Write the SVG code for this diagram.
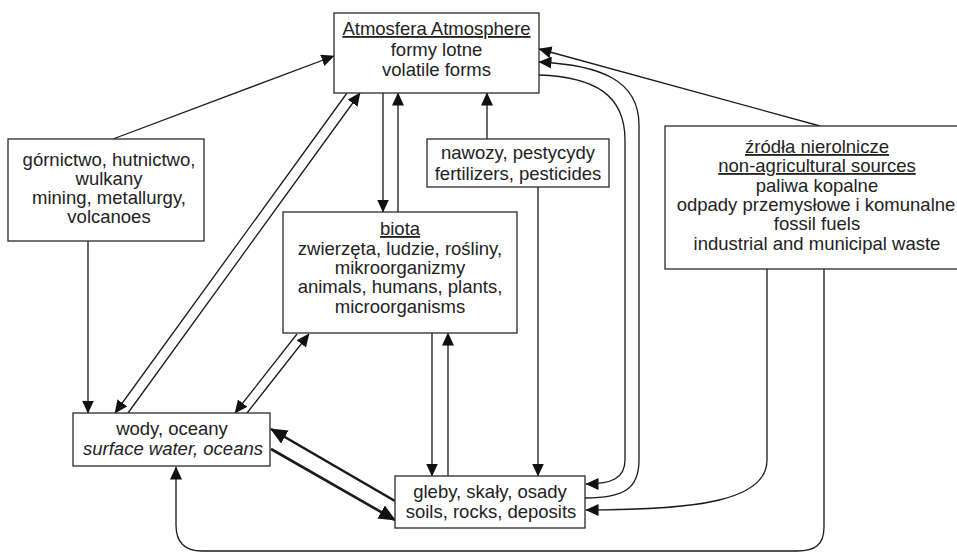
<svg xmlns="http://www.w3.org/2000/svg" width="957" height="556" viewBox="0 0 957 556">
<style>
.box{fill:#fff;stroke:#2a2a2a;stroke-width:1.3}
text{font-family:"Liberation Sans",Arial,sans-serif;font-size:18.5px;fill:#222;text-anchor:middle}
.u{text-decoration:underline}
.it{font-style:italic}
.c{fill:none;stroke:#1a1a1a;stroke-width:1.3}
.t{fill:none;stroke:#1a1a1a;stroke-width:2.6}
</style>
<defs>
<marker id="a" markerUnits="userSpaceOnUse" markerWidth="13" markerHeight="12" refX="12.5" refY="6" orient="auto">
<path d="M0,0 L13,6 L0,12 z" fill="#111"/>
</marker>
<marker id="b" markerUnits="userSpaceOnUse" markerWidth="17" markerHeight="15" refX="16" refY="7.5" orient="auto">
<path d="M0,0 L17,7.5 L0,15 z" fill="#111"/>
</marker>
</defs>
<rect width="957" height="556" fill="#fff"/>
<g id="connectors">
<line class="c" x1="113" y1="139" x2="334" y2="56" marker-end="url(#a)"/>
<line class="c" x1="88" y1="241" x2="88" y2="413" marker-end="url(#a)"/>
<line class="c" x1="347" y1="93" x2="115" y2="413" marker-end="url(#a)"/>
<line class="c" x1="128" y1="413" x2="360" y2="93" marker-end="url(#a)"/>
<line class="c" x1="383" y1="93" x2="383" y2="212" marker-end="url(#a)"/>
<line class="c" x1="398" y1="212" x2="398" y2="93" marker-end="url(#a)"/>
<line class="c" x1="487" y1="139" x2="487" y2="93" marker-end="url(#a)"/>
<line class="c" x1="538" y1="187" x2="538" y2="476" marker-end="url(#a)"/>
<line class="c" x1="432" y1="333" x2="432" y2="476" marker-end="url(#a)"/>
<line class="c" x1="448" y1="476" x2="448" y2="333" marker-end="url(#a)"/>
<line class="c" x1="297" y1="334" x2="235" y2="413" marker-end="url(#a)"/>
<line class="c" x1="247" y1="413" x2="309" y2="334" marker-end="url(#a)"/>
<line class="t" x1="395" y1="501" x2="271" y2="429" marker-end="url(#b)"/>
<line class="t" x1="271" y1="449" x2="395" y2="520" marker-end="url(#b)"/>
<line class="c" x1="820" y1="126" x2="539" y2="49" marker-end="url(#a)"/>
<path class="c" d="M539,75 C595,77 625,95 625,140 L625,460 C625,478 612,484 586,484" marker-end="url(#a)"/>
<path class="c" d="M585,498 C625,498 639,488 639,460 L639,125 C639,80 600,65 539,62" marker-end="url(#a)"/>
<path class="c" d="M767,269 L767,460 C767,500 700,510 586,510" marker-end="url(#a)"/>
<path class="c" d="M824,269 L824,527 C824,545 815,551 797,551 L202,551 C184,551 176,542 176,525 L176,467" marker-end="url(#a)"/>
</g>
<g id="atmosphere">
<rect class="box" x="334" y="13" width="205" height="80"/>
<text x="436.5" y="35" class="u">Atmosfera Atmosphere</text>
<text x="436.5" y="56">formy lotne</text>
<text x="436.5" y="76">volatile forms</text>
</g>
<g id="mining">
<rect class="box" x="8" y="139" width="196" height="102"/>
<text x="109" y="166">górnictwo, hutnictwo,</text>
<text x="109" y="185">wulkany</text>
<text x="109" y="204">mining, metallurgy,</text>
<text x="109" y="223">volcanoes</text>
</g>
<g id="fertilizers">
<rect class="box" x="427" y="139" width="182" height="48"/>
<text x="518" y="159">nawozy, pestycydy</text>
<text x="518" y="180">fertilizers, pesticides</text>
</g>
<g id="biota">
<rect class="box" x="283" y="212" width="234" height="121"/>
<text x="400" y="235" class="u">biota</text>
<text x="400" y="255">zwierzęta, ludzie, rośliny,</text>
<text x="400" y="274">mikroorganizmy</text>
<text x="400" y="293">animals, humans, plants,</text>
<text x="400" y="313">microorganisms</text>
</g>
<g id="nonagri">
<rect class="box" x="665" y="126" width="310" height="143"/>
<text x="817" y="153" class="u">źródła nierolnicze</text>
<text x="817" y="172" class="u">non-agricultural sources</text>
<text x="817" y="192">paliwa kopalne</text>
<text x="816" y="211">odpady przemysłowe i komunalne</text>
<text x="817" y="230">fossil fuels</text>
<text x="817" y="250">industrial and municipal waste</text>
</g>
<g id="water">
<rect class="box" x="73" y="413" width="197" height="53"/>
<text x="172" y="435">wody, oceany</text>
<text x="173" y="455" class="it">surface water, oceans</text>
</g>
<g id="soils">
<rect class="box" x="395" y="476" width="190" height="52"/>
<text x="490" y="498">gleby, skały, osady</text>
<text x="491" y="518">soils, rocks, deposits</text>
</g>
</svg>
